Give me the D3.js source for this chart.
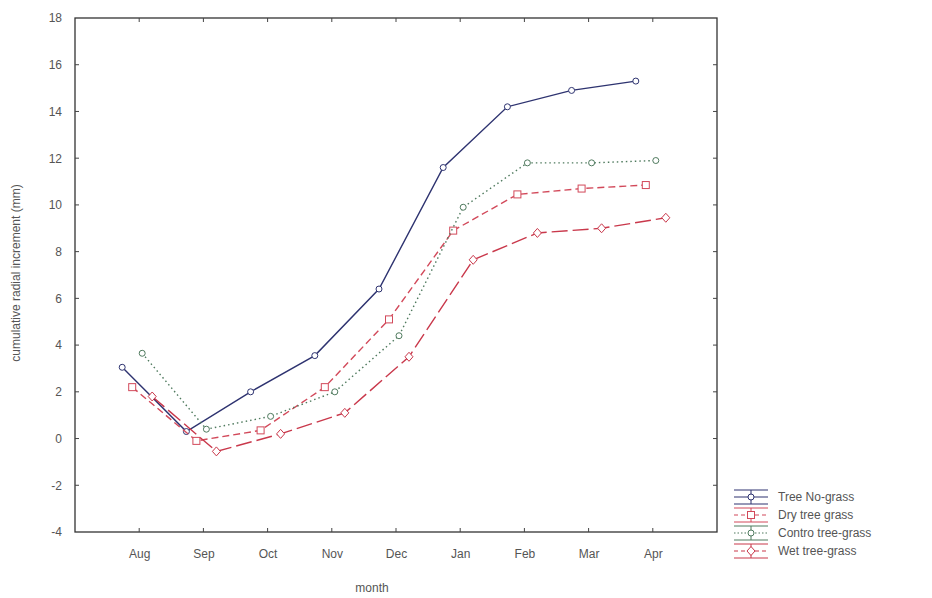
<!DOCTYPE html>
<html><head><meta charset="utf-8">
<script src="https://cdn.jsdelivr.net/npm/d3@7"></script>
<style>body{margin:0;background:#fff}svg{display:block}text{font-family:"Liberation Sans",Arial,sans-serif}</style>
</head><body><svg id="c" width="932" height="598"></svg>
<script>
const months = ["Aug","Sep","Oct","Nov","Dec","Jan","Feb","Mar","Apr"];
const seriesNames = ["Tree No-grass","Dry tree grass","Control tree-grass","Wet tree-grass"];
const legendLabels = ["Tree No-grass","Dry tree grass","Contro  tree-grass","Wet tree-grass"];
const treeNoGrass = [3.05, 0.3, 2.0, 3.55, 6.4, 11.6, 14.2, 14.9, 15.3];
const dryTreeGrass = [2.2, -0.1, 0.35, 2.2, 5.1, 8.9, 10.45, 10.7, 10.85];
const controlTreeGrass = [3.65, 0.4, 0.95, 2.0, 4.4, 9.9, 11.8, 11.8, 11.9];
const wetTreeGrass = [1.8, -0.55, 0.2, 1.1, 3.5, 7.65, 8.8, 9.0, 9.45];
const yTicks = [-4,-2,0,2,4,6,8,10,12,14,16,18];

const series = [
  {name: seriesNames[0], label: legendLabels[0], values: treeNoGrass, color: "#2e3370", dash: null, marker: "circle"},
  {name: seriesNames[1], label: legendLabels[1], values: dryTreeGrass, color: "#d2495a", dash: "7,4", marker: "square"},
  {name: seriesNames[2], label: legendLabels[2], values: controlTreeGrass, color: "#4f7a5e", dash: "1.5,3", marker: "circle"},
  {name: seriesNames[3], label: legendLabels[3], values: wetTreeGrass, color: "#c9384b", dash: "16,5", marker: "diamond"}
];

const svg = d3.select("#c");
const L = 75, R = 717, T = 18, B = 532;
const x = d3.scalePoint().domain(months).range([L, R]).padding(1);
const off = d3.scalePoint().domain(seriesNames).range([-17, 13]);
const y = d3.scaleLinear().domain([-4, 18]).range([B, T]);

// frame
svg.append("rect").attr("x", L).attr("y", T).attr("width", R - L).attr("height", B - T)
  .attr("fill", "none").attr("stroke", "#333").attr("stroke-width", 1.3);

// y axis
const yAxis = d3.axisLeft(y).tickValues(yTicks).tickSize(0).tickPadding(13).tickFormat(d => String(d));
const gy = svg.append("g").attr("transform", `translate(${L},0)`).call(yAxis);
gy.select(".domain").remove();
gy.selectAll("text").attr("font-size", 12).attr("fill", "#555");
svg.append("g").selectAll("line").data(yTicks.slice(1, -1)).join("line")
  .attr("x1", L).attr("x2", L + 4).attr("y1", d => y(d)).attr("y2", d => y(d)).attr("stroke", "#444");
svg.append("g").selectAll("line").data(yTicks.slice(1, -1)).join("line")
  .attr("x1", R).attr("x2", R - 4).attr("y1", d => y(d)).attr("y2", d => y(d)).attr("stroke", "#444");

// x axis
const xAxis = d3.axisBottom(x).tickSize(0).tickPadding(17);
const gx = svg.append("g").attr("transform", `translate(0,${B})`).call(xAxis);
gx.select(".domain").remove();
gx.selectAll("text").attr("font-size", 12).attr("fill", "#555");
svg.append("g").selectAll("line").data(months).join("line")
  .attr("x1", d => x(d)).attr("x2", d => x(d)).attr("y1", B).attr("y2", B - 4).attr("stroke", "#444");
svg.append("g").selectAll("line").data(months).join("line")
  .attr("x1", d => x(d)).attr("x2", d => x(d)).attr("y1", T).attr("y2", T + 4).attr("stroke", "#444");

// axis titles
svg.append("text").attr("x", 372).attr("y", 592).attr("text-anchor", "middle")
  .attr("font-size", 12).attr("fill", "#555").text("month");
svg.append("text").attr("transform", "translate(20,273) rotate(-90)").attr("text-anchor", "middle")
  .attr("font-size", 12).attr("fill", "#555").text("cumulative radial increment (mm)");

function drawMarker(g, type, cx, cy, color) {
  if (type === "circle") {
    g.append("circle").attr("cx", cx).attr("cy", cy).attr("r", 3).attr("fill", "#fff").attr("stroke", color).attr("stroke-width", 1);
  } else if (type === "square") {
    g.append("rect").attr("x", cx - 3.5).attr("y", cy - 3.5).attr("width", 7).attr("height", 7).attr("fill", "#fff").attr("stroke", color).attr("stroke-width", 1);
  } else {
    g.append("path").attr("d", `M${cx},${cy - 4.5}L${cx + 4},${cy}L${cx},${cy + 4.5}L${cx - 4},${cy}Z`).attr("fill", "#fff").attr("stroke", color).attr("stroke-width", 1);
  }
}

const plot = svg.append("g");
series.forEach(s => {
  const pts = s.values.map((v, i) => [x(months[i]) + off(s.name), y(v)]);
  plot.append("path").attr("d", d3.line()(pts))
    .attr("fill", "none").attr("stroke", s.color).attr("stroke-width", 1.4)
    .attr("stroke-dasharray", s.dash);
  const mg = plot.append("g");
  pts.forEach(p => drawMarker(mg, s.marker, p[0], p[1], s.color));
});

// legend
const lg = svg.append("g");
series.forEach((s, i) => {
  const cy = 497 + i * 18;
  const g = lg.append("g");
  g.append("line").attr("x1", 734).attr("x2", 768).attr("y1", cy - 7).attr("y2", cy - 7).attr("stroke", s.color).attr("stroke-width", 1);
  g.append("line").attr("x1", 734).attr("x2", 768).attr("y1", cy + 7).attr("y2", cy + 7).attr("stroke", s.color).attr("stroke-width", 1);
  g.append("line").attr("x1", 751).attr("x2", 751).attr("y1", cy - 7).attr("y2", cy + 7).attr("stroke", s.color).attr("stroke-width", 1);
  g.append("line").attr("x1", 734).attr("x2", 768).attr("y1", cy).attr("y2", cy).attr("stroke", s.color)
    .attr("stroke-width", 1.2).attr("stroke-dasharray", s.dash ? (s.dash === "1.5,3" ? "1.5,2" : "4,3") : null);
  drawMarker(g, s.marker, 751, cy, s.color);
  g.append("text").attr("x", 778).attr("y", cy + 4).attr("font-size", 12).attr("fill", "#555").text(s.label);
});
</script></body></html>
